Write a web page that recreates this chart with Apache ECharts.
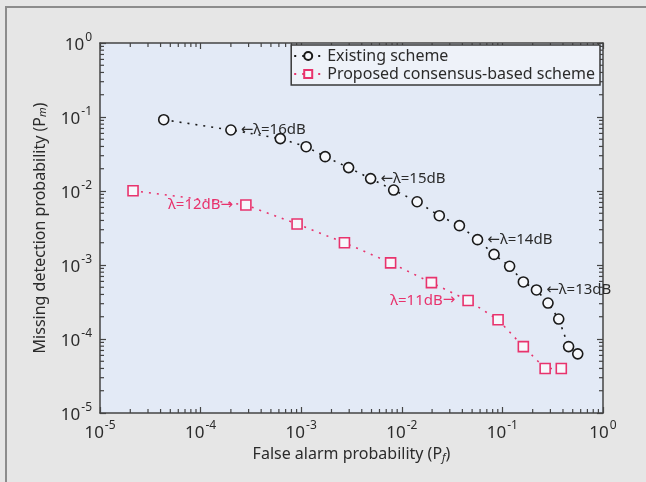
<!DOCTYPE html>
<html>
<head>
<meta charset="utf-8">
<script src="https://cdn.jsdelivr.net/npm/echarts@6/dist/echarts.min.js"></script>
<style>
  html, body { margin: 0; padding: 0; background: #e6e6e6; }
  #chart { width: 646px; height: 482px; }
</style>
</head>
<body>
<div id="chart"></div>
<script>
const existingPf = [4.3e-5, 2.0e-4, 6.2e-4, 1.12e-3, 1.73e-3, 2.96e-3, 4.9e-3, 8.3e-3, 0.0142, 0.0236,
                    0.0374, 0.0566, 0.0826, 0.118, 0.1615, 0.218, 0.284, 0.363, 0.455, 0.561];
const existingPm = [0.092, 0.0667, 0.051, 0.0397, 0.0291, 0.0207, 0.0147, 0.0103, 0.00716, 0.00464,
                    0.0034, 0.0022, 0.00139, 9.6e-4, 5.9e-4, 4.6e-4, 3.06e-4, 1.86e-4, 7.9e-5, 6.3e-5];
const proposedPf = [2.13e-5, 2.82e-4, 9.1e-4, 2.69e-3, 7.74e-3, 0.0197, 0.0456, 0.0906, 0.1615, 0.266, 0.385];
const proposedPm = [0.0101, 0.00647, 0.00358, 0.002, 0.00107, 5.77e-4, 3.32e-4, 1.82e-4, 7.9e-5, 4.0e-5, 4.0e-5];

// lambda annotations, keyed by point index
const existingNotes = {1: '←λ=16dB', 6: '←λ=15dB', 11: '←λ=14dB', 15: '←λ=13dB'};
const proposedNotes = {1: 'λ=12dB→', 6: 'λ=11dB→'};

const seriesNames = ['Existing scheme', 'Proposed consensus-based scheme'];
const decades = [-5, -4, -3, -2, -1, 0];

// log minor ticks 2..9 x 10^k
const minorTicks = [];
decades.slice(0, -1).forEach(function (d) {
  for (let m = 2; m <= 9; m++) minorTicks.push(m * Math.pow(10, d));
});

const txt = '#2b2b2b';
const font = 'Noto Sans';
const pink = '#e8336d';

function pow10Label(v) {
  return '{b|10}{s|' + Math.round(Math.log10(v)) + '}';
}
const powRich = {
  b: { fontSize: 17, color: txt, fontFamily: font, lineHeight: 22, verticalAlign: 'bottom' },
  s: { fontSize: 12, color: txt, fontFamily: font, lineHeight: 22, verticalAlign: 'top', padding: [0, 0, 0, 1] }
};

function noteText(s) {
  // arrows from DejaVu, it draws them full size
  return s.replace(/([←→])/g, '{a|$1}');
}

function pts(xs, ys, notes, side) {
  return xs.map(function (x, i) {
    const item = { value: [x, ys[i]] };
    if (notes[i]) {
      const c = side === 'right' ? txt : pink;
      item.label = {
        show: true, formatter: noteText(notes[i]), position: side,
        distance: side === 'right' ? 4 : 7,
        fontSize: 15, fontFamily: font, color: c,
        rich: { a: { fontFamily: 'DejaVu Sans', fontSize: 15, color: c } }
      };
    }
    return item;
  });
}

function logAxis(pos, extra) {
  return Object.assign({
    type: 'log', logBase: 10, min: 1e-5, max: 1, position: pos,
    axisLine: { show: true, onZero: false, lineStyle: { color: '#444', width: 1.5 } },
    axisTick: { show: true, inside: true, length: 6, lineStyle: { color: '#444', width: 1.2 } },
    splitLine: { show: false },
    axisLabel: { show: false }
  }, extra || {});
}

const subRich = { i: { fontSize: 11, fontStyle: 'italic', color: txt, fontFamily: font, verticalAlign: 'bottom', lineHeight: 14 } };

const chart = echarts.init(document.getElementById('chart'));

chart.setOption({
  backgroundColor: '#e6e6e6',
  animation: false,
  textStyle: { fontFamily: font },
  graphic: [{
    type: 'polyline',
    shape: { points: [[6, 482], [6, 7], [646, 7]] },
    style: { stroke: '#8c8c8c', lineWidth: 2, fill: null }
  }],
  grid: {
    left: 100, right: 43, top: 43, bottom: 69,
    show: true, backgroundColor: '#e3eaf6', borderWidth: 0
  },
  legend: {
    data: seriesNames,
    orient: 'vertical',
    right: 46, top: 45,
    backgroundColor: '#eef2f9',
    borderColor: '#3a3a3a', borderWidth: 1.5, borderRadius: 0,
    padding: [2, 5, 2, 2],
    itemGap: 0, itemWidth: 28, itemHeight: 10,
    textStyle: { fontSize: 16, lineHeight: 18, color: txt, fontFamily: font }
  },
  xAxis: [
    logAxis('bottom', {
      name: 'False alarm probability (P{i|f})',
      nameLocation: 'middle', nameGap: 33,
      nameTextStyle: { fontSize: 16, color: txt, fontFamily: font, rich: subRich },
      axisLabel: { show: true, margin: 7, formatter: pow10Label, rich: powRich }
    }),
    logAxis('top')
  ],
  yAxis: [
    logAxis('left', {
      name: 'Missing detection probability (P{i|m})',
      nameLocation: 'middle', nameGap: 52,
      nameTextStyle: { fontSize: 16, color: txt, fontFamily: font, rich: subRich },
      axisLabel: { show: true, margin: 8, formatter: pow10Label, rich: powRich }
    }),
    logAxis('right')
  ],
  series: [
    {
      name: seriesNames[0], type: 'line',
      data: pts(existingPf, existingPm, existingNotes, 'right'),
      symbol: 'circle', symbolSize: 10,
      itemStyle: { color: '#f6f8fc', borderColor: '#1a1a1a', borderWidth: 1.6 },
      lineStyle: { color: '#1a1a1a', width: 1.6, type: [2, 6] },
      z: 3
    },
    {
      name: seriesNames[1], type: 'line',
      data: pts(proposedPf, proposedPm, proposedNotes, 'left'),
      symbol: 'rect', symbolSize: 10,
      itemStyle: { color: '#f6f8fc', borderColor: pink, borderWidth: 1.6 },
      lineStyle: { color: pink, width: 1.6, type: [2, 6] },
      z: 3
    },
    {
      // minor ticks on bottom and top
      type: 'custom', silent: true, z: 2,
      data: minorTicks.map(function (v) { return [v, 1e-3]; }),
      renderItem: function (params, api) {
        const x = api.coord([api.value(0), 1e-3])[0];
        const r = params.coordSys;
        const st = { stroke: '#444', lineWidth: 1.2 };
        return { type: 'group', children: [
          { type: 'line', shape: { x1: x, y1: r.y + r.height, x2: x, y2: r.y + r.height - 4 }, style: st },
          { type: 'line', shape: { x1: x, y1: r.y, x2: x, y2: r.y + 4 }, style: st }
        ] };
      }
    },
    {
      // minor ticks on left and right
      type: 'custom', silent: true, z: 2,
      data: minorTicks.map(function (v) { return [1e-3, v]; }),
      renderItem: function (params, api) {
        const y = api.coord([1e-3, api.value(1)])[1];
        const r = params.coordSys;
        const st = { stroke: '#444', lineWidth: 1.2 };
        return { type: 'group', children: [
          { type: 'line', shape: { x1: r.x, y1: y, x2: r.x + 4, y2: y }, style: st },
          { type: 'line', shape: { x1: r.x + r.width, y1: y, x2: r.x + r.width - 4, y2: y }, style: st }
        ] };
      }
    }
  ]
});
</script>
</body>
</html>
